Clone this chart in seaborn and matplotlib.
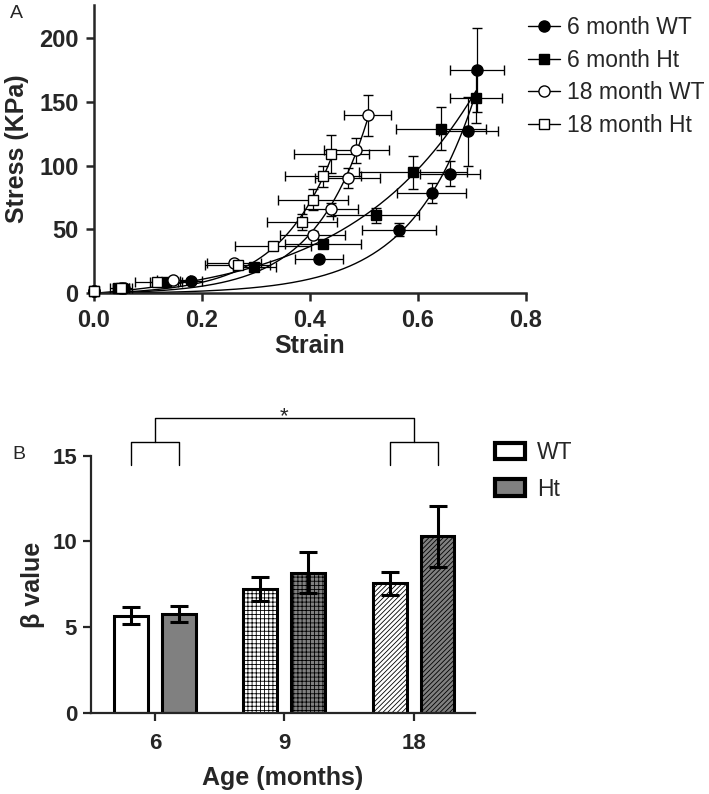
import numpy as np
import pandas as pd
import matplotlib
matplotlib.use("Agg")
import matplotlib.pyplot as plt
import seaborn as sns
from matplotlib.lines import Line2D
from matplotlib.patches import Patch

# ---------------- Panel A data (stress-strain) ----------------
wt6_strain = [0.0, 0.055, 0.180, 0.417, 0.565, 0.626, 0.660, 0.694, 0.709]
wt6_stress = [1.5, 4.0, 9.4, 27.2, 49.8, 78.5, 93.6, 126.8, 174.5]
wt6_xerr = [0.0, 0.015, 0.02, 0.045, 0.068, 0.064, 0.055, 0.055, 0.05]
wt6_yerr = [0.5, 1.0, 1.5, 2.0, 5.0, 8.0, 10.0, 27.0, 33.0]

ht6_strain = [0.0, 0.045, 0.133, 0.297, 0.424, 0.523, 0.592, 0.643, 0.708]
ht6_stress = [1.5, 3.9, 8.9, 20.6, 38.9, 61.0, 94.7, 128.8, 153.0]
ht6_xerr = [0.0, 0.015, 0.03, 0.04, 0.07, 0.08, 0.10, 0.083, 0.048]
ht6_yerr = [0.5, 1.0, 1.5, 2.0, 3.0, 6.0, 13.0, 17.0, 20.0]

wt18_strain = [0.0, 0.05, 0.147, 0.260, 0.405, 0.440, 0.470, 0.486, 0.507]
wt18_stress = [1.5, 4.0, 10.7, 23.7, 45.9, 65.7, 90.2, 111.9, 139.3]
wt18_xerr = [0.0, 0.015, 0.03, 0.05, 0.06, 0.05, 0.06, 0.06, 0.043]
wt18_yerr = [0.5, 1.0, 1.5, 2.0, 3.0, 5.0, 8.0, 10.0, 16.0]

ht18_strain = [0.0, 0.05, 0.116, 0.266, 0.332, 0.386, 0.406, 0.424, 0.440]
ht18_stress = [1.5, 4.0, 8.9, 21.9, 36.8, 55.8, 73.3, 91.5, 108.8]
ht18_xerr = [0.0, 0.015, 0.04, 0.06, 0.07, 0.065, 0.065, 0.07, 0.07]
ht18_yerr = [0.5, 1.0, 1.5, 2.0, 3.0, 6.0, 8.0, 8.0, 15.0]

series_labels = ["6 month WT", "6 month Ht", "18 month WT", "18 month Ht"]

# ---------------- Panel B data (beta values) ----------------
ages = ["6", "9", "18"]
genotypes = ["WT", "Ht"]
beta_wt = [5.67, 7.24, 7.58]
beta_ht = [5.77, 8.18, 10.29]
beta_wt_err = [0.5, 0.68, 0.67]
beta_ht_err = [0.45, 1.2, 1.8]
age_hatches = ["", "++++", "///////"]
sig_bracket_low = 14.47
sig_bracket_mid = 15.8
sig_bracket_top = 17.2
sig_label = "*"

# ---------------- style ----------------
sns.set_style("ticks")
plt.rcParams["font.family"] = ["Liberation Sans", "DejaVu Sans"]
plt.rcParams["hatch.color"] = "black"
plt.rcParams["hatch.linewidth"] = 0.6

W, H = 709, 794
fig = plt.figure(figsize=(W / 100, H / 100), dpi=100)


def fit_exp(x, y):
    x = np.asarray(x, float)
    y = np.asarray(y, float)
    best = None
    for b in np.linspace(1, 30, 2901):
        g = np.expm1(b * x)
        a = (g @ y) / (g @ g)
        r = ((a * g - y) ** 2).sum()
        if best is None or r < best[0]:
            best = (r, a, b)
    return best[1], best[2]


# ---------------- Panel A ----------------
axA = fig.add_axes([94 / W, 1 - 293.3 / H, (525.7 - 94) / W, (293.3 - 5) / H])
series = [
    (wt6_strain, wt6_stress, wt6_xerr, wt6_yerr, "o", "black"),
    (ht6_strain, ht6_stress, ht6_xerr, ht6_yerr, "s", "black"),
    (wt18_strain, wt18_stress, wt18_xerr, wt18_yerr, "o", "white"),
    (ht18_strain, ht18_stress, ht18_xerr, ht18_yerr, "s", "white"),
]
for xs, ys, xe, ye, mk, fc in series:
    a, b = fit_exp(xs, ys)
    xx = np.linspace(0, max(xs), 200)
    sns.lineplot(x=xx, y=a * np.expm1(b * xx), ax=axA, color="black", lw=1.0,
                 zorder=2, sort=False)
for xs, ys, xe, ye, mk, fc in series:
    axA.errorbar(xs, ys, xerr=xe, yerr=ye, fmt=mk, mfc=fc, mec="black",
                 mew=1.0, ms=8 if mk == "o" else 7.5, ecolor="black",
                 elinewidth=0.9, capsize=3.5, capthick=0.9, clip_on=False,
                 zorder=3)

axA.set_xlim(0, 0.8)
axA.set_ylim(0, 225.6)
axA.set_xticks([0.0, 0.2, 0.4, 0.6, 0.8])
axA.set_xticklabels(["0.0", "0.2", "0.4", "0.6", "0.8"])
axA.set_yticks([0, 50, 100, 150, 200])
sns.despine(ax=axA)
for s in ["left", "bottom"]:
    axA.spines[s].set_linewidth(1.8)
axA.tick_params(axis="both", direction="out", length=6, width=1.8,
                labelsize=17, pad=5)
for lab in axA.get_xticklabels() + axA.get_yticklabels():
    lab.set_fontweight("bold")
axA.set_xlabel("Strain", fontsize=18, fontweight="bold", labelpad=1.5)
axA.set_ylabel("Stress (KPa)", fontsize=18, fontweight="bold", labelpad=7)

handlesA = [
    Line2D([], [], color="black", lw=1, marker="o", mfc="black", mec="black", ms=8),
    Line2D([], [], color="black", lw=1, marker="s", mfc="black", mec="black", ms=7.5),
    Line2D([], [], color="black", lw=1, marker="o", mfc="white", mec="black", ms=8),
    Line2D([], [], color="black", lw=1, marker="s", mfc="white", mec="black", ms=7.5),
]
fig.legend(handlesA, series_labels, loc="upper left",
           bbox_to_anchor=(528 / W, 1 - 16 / H), frameon=False, fontsize=16.5,
           handlelength=1.4, handletextpad=0.3, labelspacing=0.42,
           borderpad=0, borderaxespad=0)

fig.text(10 / W, 1 - 13 / H, "A", fontsize=14, ha="left", va="center")

# ---------------- Panel B ----------------
axB = fig.add_axes([91 / W, 1 - 713.3 / H, (475 - 91) / W, (713.3 - 455.5) / H])
df = pd.DataFrame({
    "age": ages * 2,
    "genotype": ["WT"] * len(ages) + ["Ht"] * len(ages),
    "beta": beta_wt + beta_ht,
    "err": beta_wt_err + beta_ht_err,
})
sns.barplot(data=df, x="age", y="beta", hue="genotype", order=ages,
            hue_order=genotypes, palette={"WT": "white", "Ht": "#808080"},
            width=0.74, gap=0.29, errorbar=None, edgecolor="black",
            linewidth=2.2, ax=axB, legend=False)

centers = {}
for cont, g in zip(axB.containers, genotypes):
    for bar in cont:
        cx = bar.get_x() + bar.get_width() / 2
        idx = int(round(cx))
        bar.set_hatch(age_hatches[idx])
        centers[(g, idx)] = cx
        row = df[(df.genotype == g) & (df.age == ages[idx])].iloc[0]
        axB.errorbar([cx], [row.beta], yerr=[row.err], fmt="none",
                     ecolor="black", elinewidth=2.2, capsize=6.5,
                     capthick=2.2, zorder=4)

axB.set_xlim(-0.495, 2.475)
axB.set_ylim(0, 15)
axB.set_yticks([0, 5, 10, 15])
sns.despine(ax=axB)
for s in ["left", "bottom"]:
    axB.spines[s].set_linewidth(1.6)
axB.tick_params(axis="y", direction="out", length=6, width=1.6,
                labelsize=16, pad=4)
axB.tick_params(axis="x", direction="out", length=6, width=1.6,
                labelsize=16, pad=8)
for lab in axB.get_xticklabels() + axB.get_yticklabels():
    lab.set_fontweight("bold")
axB.set_xlabel("Age (months)", fontsize=18, fontweight="bold", labelpad=9)
axB.set_ylabel("β value", fontsize=18, fontweight="bold", labelpad=5)

# significance bracket between 6 and 18 months
l0, l1 = centers[("WT", 0)], centers[("Ht", 0)]
r0, r1 = centers[("WT", 2)], centers[("Ht", 2)]
kw = dict(color="black", lw=1.0, clip_on=False)
axB.plot([l0, l0, l1, l1], [sig_bracket_low, sig_bracket_mid, sig_bracket_mid, sig_bracket_low], **kw)
axB.plot([r0, r0, r1, r1], [sig_bracket_low, sig_bracket_mid, sig_bracket_mid, sig_bracket_low], **kw)
lm, rm = (l0 + l1) / 2, (r0 + r1) / 2
axB.plot([lm, lm, rm, rm], [sig_bracket_mid, sig_bracket_top, sig_bracket_top, sig_bracket_mid], **kw)
axB.text((lm + rm) / 2, sig_bracket_top - 0.25, sig_label, ha="center",
         va="baseline", fontsize=16)

handlesB = [Patch(facecolor="white", edgecolor="black", lw=3),
            Patch(facecolor="#808080", edgecolor="black", lw=3)]
fig.legend(handlesB, genotypes, loc="upper left",
           bbox_to_anchor=(495 / W, 1 - 441 / H), frameon=False, fontsize=16.5,
           handlelength=1.3, handleheight=0.75, handletextpad=0.55,
           labelspacing=0.6, borderpad=0, borderaxespad=0)

fig.text(12 / W, 1 - 455 / H, "B", fontsize=14, ha="left", va="center")

fig.savefig("out.png", dpi=100)
